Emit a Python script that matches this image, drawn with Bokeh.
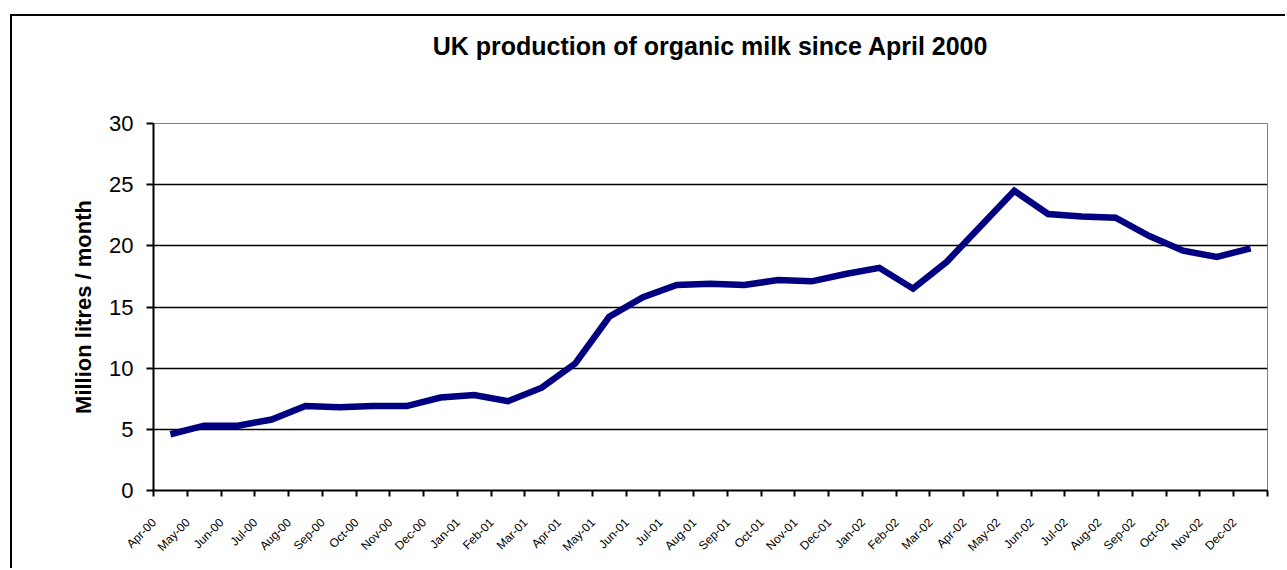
import math
import numpy as np
from bokeh.plotting import figure
from bokeh.models import Range1d, FixedTicker, Title
from bokeh.embed import file_html
from bokeh.resources import INLINE

months = ["Apr-00", "May-00", "Jun-00", "Jul-00", "Aug-00", "Sep-00", "Oct-00", "Nov-00",
          "Dec-00", "Jan-01", "Feb-01", "Mar-01", "Apr-01", "May-01", "Jun-01", "Jul-01",
          "Aug-01", "Sep-01", "Oct-01", "Nov-01", "Dec-01", "Jan-02", "Feb-02", "Mar-02",
          "Apr-02", "May-02", "Jun-02", "Jul-02", "Aug-02", "Sep-02", "Oct-02", "Nov-02",
          "Dec-02"]
milk = [4.6, 5.3, 5.3, 5.8, 6.9, 6.8, 6.9, 6.9, 7.6, 7.8, 7.3, 8.4, 10.4, 14.2, 15.8, 16.8,
        16.9, 16.8, 17.2, 17.1, 17.7, 18.2, 16.5, 18.7, 21.6, 24.5, 22.6, 22.4, 22.3, 20.8,
        19.6, 19.1, 19.8]
y_ticks = [0, 5, 10, 15, 20, 25, 30]
grid_ticks = [5, 10, 15, 20, 25]
title_text = "UK production of organic milk since April 2000"

FONT = "Liberation Sans"
n = len(months)
centers = [i + 0.5 for i in range(n)]
bounds = list(range(n + 1))
label_pos = [c - 0.48 for c in centers]

p = figure(width=1275, height=554, output_backend="svg", toolbar_location=None,
           x_range=Range1d(0, n), y_range=Range1d(y_ticks[0], y_ticks[-1]),
           min_border_left=141, min_border_right=20, min_border_top=107, min_border_bottom=80,
           background_fill_color="white", border_fill_color="white")
p.margin = (14, 0, 0, 10)
p.styles = {"border-left": "2px solid black", "border-top": "2px solid black"}

p.outline_line_color = "#808080"
p.outline_line_width = 1

spacer = Title(text=" ", text_font=FONT, text_font_size="25px", standoff=21)
title = Title(text=title_text, align="center",
              text_font=FONT, text_font_size="25px", text_font_style="bold",
              text_color="black", standoff=26)
p.add_layout(spacer, "above")
p.add_layout(title, "above")

p.line(centers, milk, line_color="#000080", line_width=6.5, line_join="miter")

# y axis
p.yaxis.ticker = FixedTicker(ticks=y_ticks)
p.yaxis.axis_label = "Million litres / month"
p.yaxis.axis_label_text_font = FONT
p.yaxis.axis_label_text_font_size = "22px"
p.yaxis.axis_label_text_font_style = "bold"
p.yaxis.axis_label_text_color = "black"
p.yaxis.axis_label_standoff = 10
p.yaxis.major_label_text_font = FONT
p.yaxis.major_label_text_font_size = "22px"
p.yaxis.major_label_text_color = "black"
p.yaxis.major_label_standoff = 13
p.yaxis.axis_line_color = "black"
p.yaxis.axis_line_width = 2
p.yaxis.major_tick_line_color = "black"
p.yaxis.major_tick_line_width = 2
p.yaxis.major_tick_out = 7
p.yaxis.major_tick_in = 0
p.yaxis.minor_tick_line_color = None

# x axis
p.xaxis.ticker = FixedTicker(ticks=label_pos, minor_ticks=bounds)
p.xaxis.major_label_overrides = {c: m for c, m in zip(label_pos, months)}
p.xaxis.major_label_orientation = math.pi / 4
p.xaxis.major_label_text_font = FONT
p.xaxis.major_label_text_font_size = "12px"
p.xaxis.major_label_text_color = "black"
p.xaxis.major_label_standoff = 24
p.xaxis.major_tick_line_color = None
p.xaxis.minor_tick_line_color = "black"
p.xaxis.minor_tick_line_width = 2
p.xaxis.minor_tick_out = 6
p.xaxis.minor_tick_in = 0
p.xaxis.axis_line_color = "black"
p.xaxis.axis_line_width = 2

# grid
p.xgrid.visible = False
p.ygrid.ticker = FixedTicker(ticks=grid_ticks)
p.ygrid.grid_line_color = "black"
p.ygrid.grid_line_width = 1.5

open("out.html", "w").write(file_html(p, INLINE))
